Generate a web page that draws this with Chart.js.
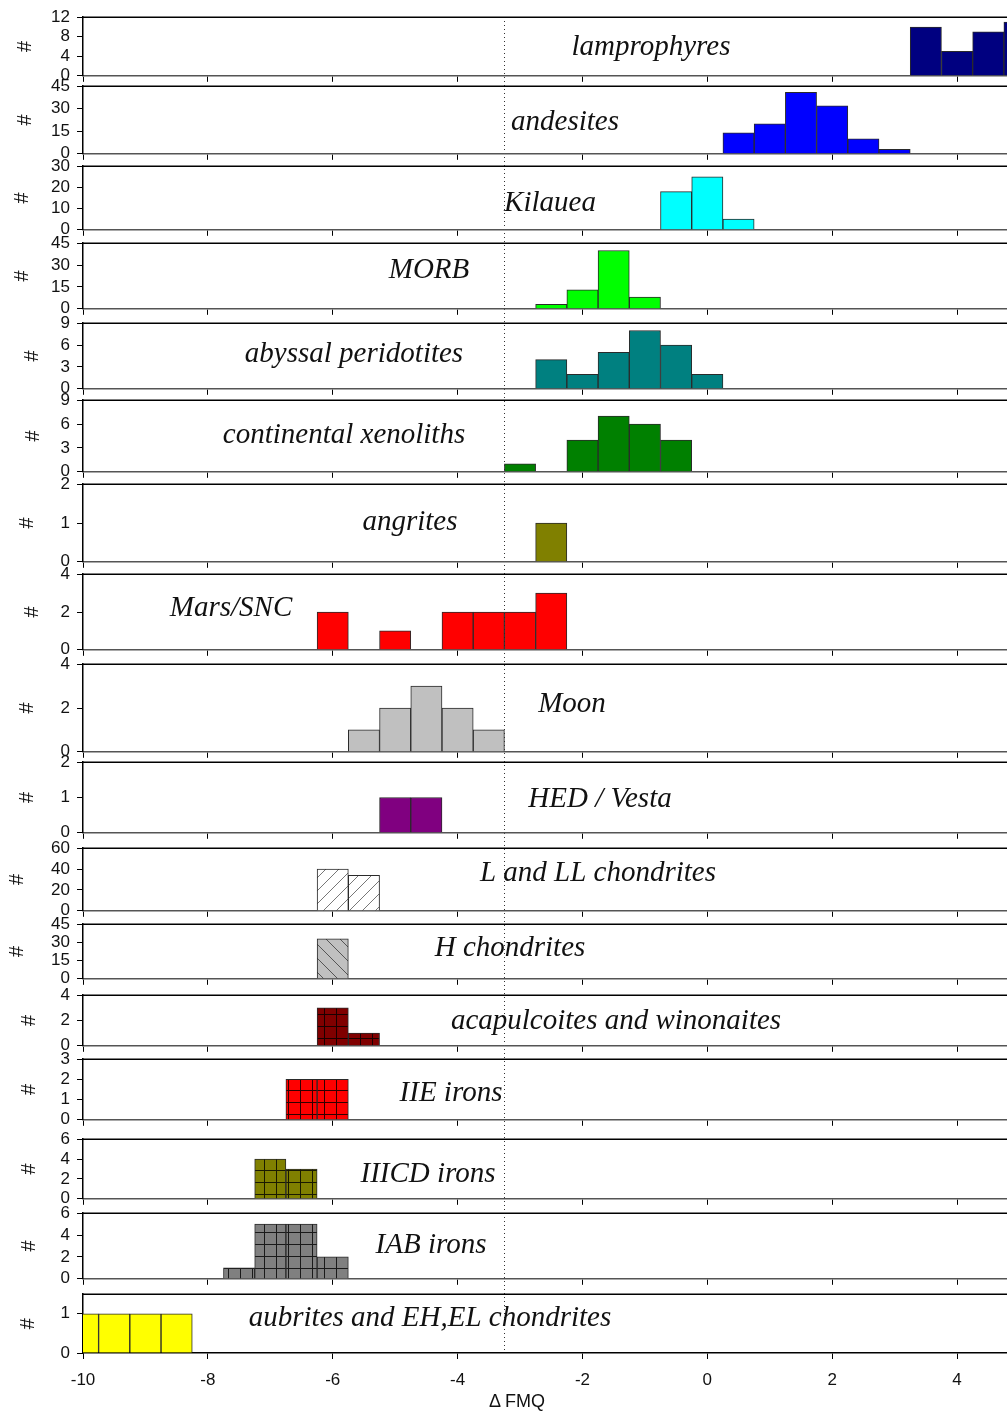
<!DOCTYPE html>
<html><head><meta charset="utf-8">
<script src="https://cdn.jsdelivr.net/npm/chart.js@4"></script>
<style>
html,body{margin:0;padding:0;background:#fff;}
#wrap{position:relative;width:1007px;height:1412px;overflow:hidden;background:#fff;}
#wrap canvas{position:absolute;left:0;}
#xtitle{position:absolute;left:517px;top:1401px;transform:translate(-50%,-50%);font-family:'Liberation Sans',Arial,sans-serif;font-size:18px;color:#111;white-space:nowrap;}
</style></head><body>
<div id="wrap"><canvas id="refline" width="1007" height="1412" style="top:0"></canvas><div id="xtitle">Δ FMQ</div></div>
<script>
// ---- DATA ----
const binCenters = [-10,-9.5,-9,-8.5,-8,-7.5,-7,-6.5,-6,-5.5,-5,-4.5,-4,-3.5,-3,-2.5,-2,-1.5,-1,-0.5,0,0.5,1,1.5,2,2.5,3,3.5,4,4.5,5];
const lamprophyres   = [0,0,0,0,0,0,0,0,0,0,0,0,0,0,0,0,0,0,0,0,0,0,0,0,0,0,0,10,5,9,11];
const andesites      = [0,0,0,0,0,0,0,0,0,0,0,0,0,0,0,0,0,0,0,0,0,14,20,41,32,10,3,0,0,0,0];
const kilauea        = [0,0,0,0,0,0,0,0,0,0,0,0,0,0,0,0,0,0,0,18,25,5,0,0,0,0,0,0,0,0,0];
const morb           = [0,0,0,0,0,0,0,0,0,0,0,0,0,0,0,3,13,40,8,0,0,0,0,0,0,0,0,0,0,0,0];
const abyssal        = [0,0,0,0,0,0,0,0,0,0,0,0,0,0,0,4,2,5,8,6,2,0,0,0,0,0,0,0,0,0,0];
const xenoliths      = [0,0,0,0,0,0,0,0,0,0,0,0,0,0,1,0,4,7,6,4,0,0,0,0,0,0,0,0,0,0,0];
const angrites       = [0,0,0,0,0,0,0,0,0,0,0,0,0,0,0,1,0,0,0,0,0,0,0,0,0,0,0,0,0,0,0];
const marsSNC        = [0,0,0,0,0,0,0,0,2,0,1,0,2,2,2,3,0,0,0,0,0,0,0,0,0,0,0,0,0,0,0];
const moon           = [0,0,0,0,0,0,0,0,0,1,2,3,2,1,0,0,0,0,0,0,0,0,0,0,0,0,0,0,0,0,0];
const hedVesta       = [0,0,0,0,0,0,0,0,0,0,1,1,0,0,0,0,0,0,0,0,0,0,0,0,0,0,0,0,0,0,0];
const lllChondrites  = [0,0,0,0,0,0,0,0,40,34,0,0,0,0,0,0,0,0,0,0,0,0,0,0,0,0,0,0,0,0,0];
const hChondrites    = [0,0,0,0,0,0,0,0,33,0,0,0,0,0,0,0,0,0,0,0,0,0,0,0,0,0,0,0,0,0,0];
const acapulcoites   = [0,0,0,0,0,0,0,0,3,1,0,0,0,0,0,0,0,0,0,0,0,0,0,0,0,0,0,0,0,0,0];
const iieIrons       = [0,0,0,0,0,0,0,2,2,0,0,0,0,0,0,0,0,0,0,0,0,0,0,0,0,0,0,0,0,0,0];
const iiicdIrons     = [0,0,0,0,0,0,4,3,0,0,0,0,0,0,0,0,0,0,0,0,0,0,0,0,0,0,0,0,0,0,0];
const iabIrons       = [0,0,0,0,0,1,5,5,2,0,0,0,0,0,0,0,0,0,0,0,0,0,0,0,0,0,0,0,0,0,0];
const aubrites       = [1,1,1,1,0,0,0,0,0,0,0,0,0,0,0,0,0,0,0,0,0,0,0,0,0,0,0,0,0,0,0];

const panelNames = ['lamprophyres','andesites','Kilauea','MORB','abyssal peridotites','continental xenoliths','angrites','Mars/SNC','Moon','HED / Vesta','L and LL chondrites','H chondrites','acapulcoites and winonaites','IIE irons','IIICD irons','IAB irons','aubrites and EH,EL chondrites'];
const panelCounts = [lamprophyres,andesites,kilauea,morb,abyssal,xenoliths,angrites,marsSNC,moon,hedVesta,lllChondrites,hChondrites,acapulcoites,iieIrons,iiicdIrons,iabIrons,aubrites];
const yMax  = [12,45,30,45,9,9,2,4,4,2,60,45,4,3,6,6,1.5];
const yStep = [4,15,10,15,3,3,1,2,2,1,20,15,2,1,2,2,1];
const xMin = -10, xMax = 4.8, xStep = 2;
const refLineValue = -3.25;
const yTitle = '#';

// ---- LAYOUT / STYLE ----
const plotTop    = [17,86,166,243,323,400,484,574,664,762,848,924,995,1059,1139,1213,1294];
const plotBottom = [76,154,230,309,389,472,562,650,752,833,911,979,1046,1120,1199,1279,1353];
const hashX      = [25,25,22,22,32,33,27,32,27,27,17,17,29,29,29,29,28];
const labelPos   = [[651,47],[565,122],[550,203],[429,270],[354,354],[344,435],[410,522],[231,608],[572,704],[600,799],[598,873],[510,948],[616,1021],[451,1093],[428,1174],[431,1245],[430,1318]];

function makePattern(bg, fg, kind, size) {
  const c = document.createElement('canvas'); c.width = size; c.height = size;
  const g = c.getContext('2d');
  g.fillStyle = bg; g.fillRect(0, 0, size, size);
  g.strokeStyle = fg; g.lineWidth = 1;
  g.beginPath();
  if (kind === 'grid') {
    g.moveTo(0.5, 0); g.lineTo(0.5, size);
    g.moveTo(0, 0.5); g.lineTo(size, 0.5);
  } else if (kind === 'fwd') {
    g.moveTo(-1, size + 1); g.lineTo(size + 1, -1);
  } else {
    g.moveTo(-1, -1); g.lineTo(size + 1, size + 1);
  }
  g.stroke();
  return g.createPattern(c, 'repeat');
}
const fills = [
  '#000080','#0000ff','#00ffff','#00ff00','#008080','#008000','#808000','#ff0000','#c0c0c0','#800080',
  makePattern('#ffffff', '#777777', 'fwd', 13),
  makePattern('#c0c0c0', '#555555', 'back', 14),
  makePattern('#800000', '#1a0000', 'grid', 12),
  makePattern('#ff0000', '#330000', 'grid', 12),
  makePattern('#808000', '#1a1a00', 'grid', 12),
  makePattern('#808080', '#1a1a1a', 'grid', 12),
  '#ffff00'
];

const PAD_T = 12;
const wrap = document.getElementById('wrap');
const charts = [];

const framePlugin = {
  id: 'frame',
  afterDraw(chart, args, opts) {
    const ctx = chart.ctx, ca = chart.chartArea;
    const i = opts.index;
    const canvasTop = plotTop[i] - ca.top;
    ctx.save();
    ctx.strokeStyle = '#000'; ctx.lineWidth = 1.5;
    ctx.beginPath(); ctx.moveTo(ca.left - 1, ca.top); ctx.lineTo(ca.right, ca.top); ctx.stroke();
    ctx.fillStyle = '#111';
    ctx.font = '20px "Liberation Sans", Arial, sans-serif';
    ctx.textAlign = 'center'; ctx.textBaseline = 'middle';
    ctx.translate(hashX[i], (ca.top + ca.bottom) / 2);
    ctx.rotate(-Math.PI / 2);
    ctx.fillText(yTitle, 0, 0);
    ctx.restore();
    ctx.save();
    ctx.fillStyle = '#111';
    ctx.font = 'italic 29px "Liberation Serif", "Times New Roman", serif';
    ctx.textAlign = 'center'; ctx.textBaseline = 'middle';
    ctx.fillText(panelNames[i], labelPos[i][0], labelPos[i][1] - canvasTop);
    ctx.restore();
  }
};

function buildChart(cv, i, padB) {
  const last = i === panelNames.length - 1;
  const counts = panelCounts[i];
  return new Chart(cv, {
    type: 'bar',
    data: {
      datasets: [{
        data: binCenters.map((x, k) => ({x: x, y: counts[k]})),
        backgroundColor: fills[i],
        borderColor: '#2a2a2a',
        borderWidth: 1,
        borderSkipped: 'start',
        barPercentage: 1,
        categoryPercentage: 1
      }]
    },
    options: {
      responsive: false, maintainAspectRatio: false, animation: false, devicePixelRatio: 1,
      layout: {padding: {top: PAD_T, bottom: 0, left: 0, right: 0}},
      plugins: {
        legend: {display: false}, tooltip: {enabled: false},
        frame: {index: i}
      },
      scales: {
        x: {
          type: 'linear', min: xMin, max: xMax, offset: false,
          ticks: {stepSize: xStep, includeBounds: false, autoSkip: false, display: last, color: '#111', padding: 11,
                  maxRotation: 0, font: {family: '"Liberation Sans", Arial, sans-serif', size: 17}},
          grid: {offset: false, drawOnChartArea: false, drawTicks: true, tickLength: 6, color: '#000', lineWidth: 1},
          border: {display: true, color: last ? '#000' : '#555', width: 1.5},
          afterFit: s => { s.height = padB; }
        },
        y: {
          min: 0, max: yMax[i],
          ticks: {stepSize: yStep[i], includeBounds: false, autoSkip: false, color: '#111', padding: 7,
                  font: {family: '"Liberation Sans", Arial, sans-serif', size: 17}},
          grid: {drawOnChartArea: false, drawTicks: true, tickLength: 6, color: '#000', lineWidth: 1},
          border: {display: true, color: '#000', width: 1.5},
          afterFit: s => { s.width = 83; }
        }
      }
    },
    plugins: [framePlugin]
  });
}

panelNames.forEach((name, i) => {
  const last = i === panelNames.length - 1;
  const padB = last ? (1412 - plotBottom[i]) : 12;
  const wantH = plotBottom[i] - plotTop[i];
  let h = wantH + PAD_T + padB;
  const cv = document.createElement('canvas');
  cv.width = 1007; cv.height = h;
  cv.style.width = '1007px'; cv.style.height = h + 'px';
  cv.style.top = (plotTop[i] - PAD_T) + 'px';
  wrap.appendChild(cv);
  let ch = buildChart(cv, i, padB);
  const mTop = ch.chartArea.top, mBot = h - ch.chartArea.bottom;
  ch.destroy();
  h = Math.round(mTop + wantH + mBot);
  cv.width = 1007; cv.height = h;
  cv.style.width = '1007px'; cv.style.height = h + 'px';
  cv.style.top = (plotTop[i] - mTop) + 'px';
  ch = buildChart(cv, i, padB);
  charts.push(ch);
});

(function () {
  const xs = charts[0].scales.x;
  const px = Math.round(xs.getPixelForValue(refLineValue)) + 0.5;
  const g = document.getElementById('refline').getContext('2d');
  g.strokeStyle = '#333'; g.lineWidth = 1; g.setLineDash([1, 3]);
  g.beginPath(); g.moveTo(px, plotTop[0]); g.lineTo(px, plotBottom[plotBottom.length - 1]); g.stroke();
})();
</script>
</body></html>
